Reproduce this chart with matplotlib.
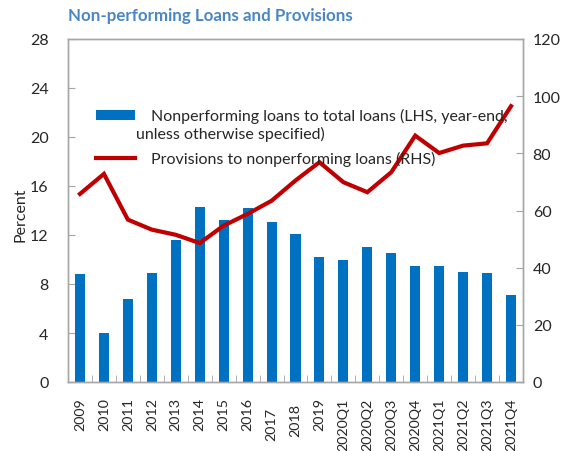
import matplotlib
matplotlib.use("Agg")
import matplotlib.pyplot as plt
import matplotlib.transforms as mtransforms
from matplotlib.patches import Patch
from matplotlib.lines import Line2D
import numpy as np

categories = ["2009", "2010", "2011", "2012", "2013", "2014", "2015", "2016",
              "2017", "2018", "2019", "2020Q1", "2020Q2", "2020Q3", "2020Q4",
              "2021Q1", "2021Q2", "2021Q3", "2021Q4"]
npl_ratio = [8.8, 4.0, 6.8, 8.9, 11.6, 14.3, 13.2, 14.2, 13.1, 12.1, 10.2,
             10.0, 11.0, 10.5, 9.5, 9.5, 9.0, 8.9, 7.1]
provisions = [65.8, 72.8, 56.8, 53.3, 51.5, 48.6, 54.7, 58.8, 63.4, 70.5,
              76.9, 69.9, 66.4, 73.4, 86.2, 80.1, 82.7, 83.5, 96.5]
left_ticks = [0, 4, 8, 12, 16, 20, 24, 28]
right_ticks = [0, 20, 40, 60, 80, 100, 120]
label1 = "Nonperforming loans to total loans (LHS, year-end,"
label1b = "unless otherwise specified)"
label2 = "Provisions to nonperforming loans (RHS)"
title = "Non-performing Loans and Provisions"

plt.rcParams["font.family"] = ["Lato", "DejaVu Sans"]
BAR = "#0070C0"
LINE = "#C00000"
SPINE = "#A6A6A6"
TXT = "#262626"
FS = 11.5
XFS = 10.3

fig = plt.figure(figsize=(5.76, 4.52), dpi=100)
ax = fig.add_axes([68 / 576, 1 - 383 / 452, (523 - 68) / 576, (383 - 40) / 452])
ax2 = ax.twinx()

x = np.arange(len(categories))
ax.bar(x, npl_ratio, width=0.42, color=BAR, zorder=2)
ax2.plot(x, provisions, color=LINE, lw=3, solid_joinstyle="miter", zorder=3)

ax.set_xlim(-0.5, len(categories) - 0.5)
ax.set_ylim(0, 28)
ax2.set_ylim(0, 120)
ax.set_yticks(left_ticks)
ax2.set_yticks(right_ticks)

ax.set_xticks(x)
ax.set_xticklabels(categories, rotation=90, va="top", ha="center", fontsize=XFS, color=TXT)
ax.set_xticks(np.arange(len(categories) - 1) + 0.5, minor=True)
ax.tick_params(axis="x", which="major", length=0, pad=11)
ax.tick_params(axis="x", which="minor", direction="in", length=5, color=SPINE)
ax.tick_params(axis="y", direction="in", length=5, color=SPINE, labelsize=FS,
               labelcolor=TXT, pad=14)
ax2.tick_params(axis="y", direction="in", length=5, color=SPINE, labelsize=FS,
                labelcolor=TXT, pad=7)

# shifted labels as in the reference
offsets = {"2017": 10, "2018": 6}
for lab in ax.get_xticklabels():
    dy = offsets.get(lab.get_text(), 0)
    if dy:
        lab.set_transform(lab.get_transform() +
                          mtransforms.ScaledTranslation(0, -dy / 100, fig.dpi_scale_trans))

for a in (ax, ax2):
    for s in a.spines.values():
        s.set_color(SPINE)
        s.set_linewidth(1.0)

ax.set_ylabel("Percent", fontsize=FS, color=TXT)
ax.yaxis.set_label_coords((28 - 68) / 455, 0.49)

fig.text(68 / 576, 1 - 16 / 452, title, fontsize=12.2, fontweight="bold",
         color="#4A86C5", ha="left", va="center")

handles = [Patch(facecolor=BAR, edgecolor="none"), Line2D([], [], color=LINE, lw=3)]
leg = ax2.legend(handles, [label1, label2], loc="upper left",
                 bbox_to_anchor=((90 - 68) / 455, 1 - (103 - 40) / 343),
                 frameon=False, fontsize=FS, labelspacing=1.75, handlelength=2.4,
                 handleheight=0.55, handletextpad=1.05, borderaxespad=0)
for t in leg.get_texts():
    t.set_color(TXT)
ax2.text((136 - 68) / 455, 1 - (134 - 40) / 343, label1b, transform=ax2.transAxes,
         fontsize=FS, color=TXT, ha="left", va="center")

fig.savefig("out.png", dpi=100)
